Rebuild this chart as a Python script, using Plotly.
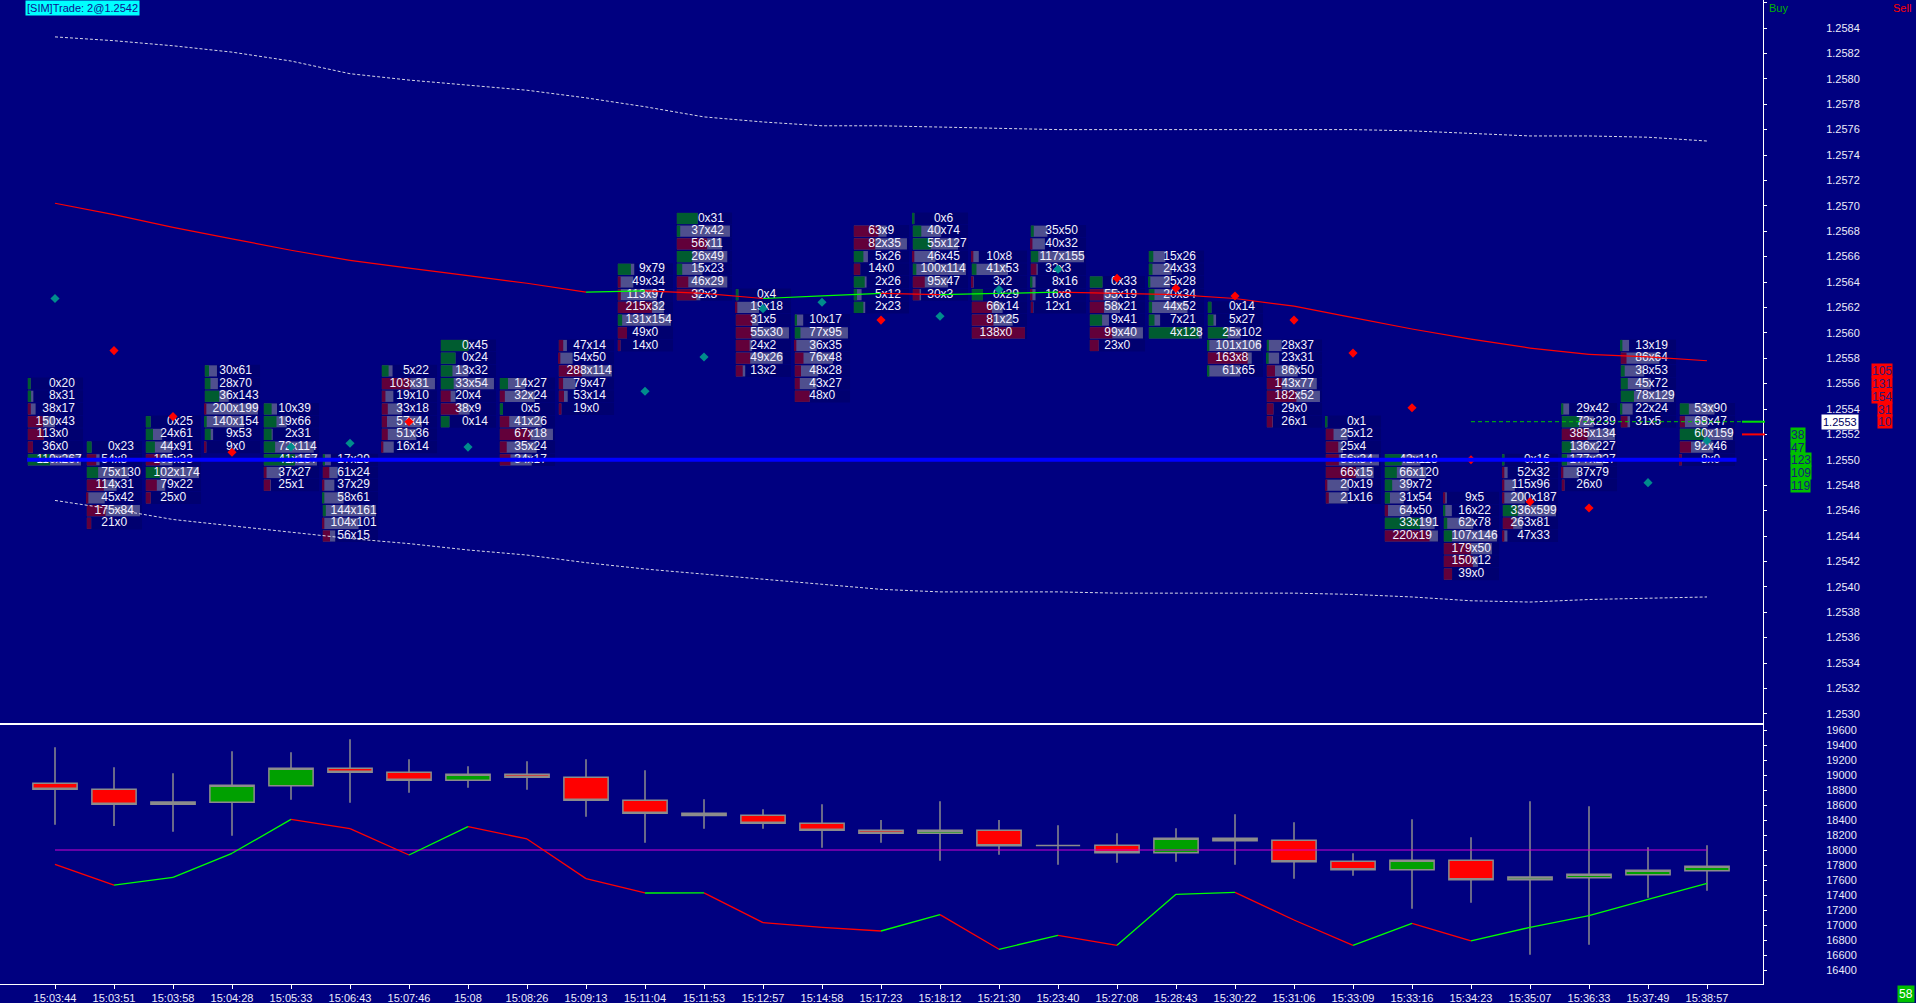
import plotly.graph_objects as go

# ---------------- data ----------------
times = ["15:03:44", "15:03:51", "15:03:58", "15:04:28", "15:05:33", "15:06:43", "15:07:46",
         "15:08", "15:08:26", "15:09:13", "15:11:04", "15:11:53", "15:12:57", "15:14:58",
         "15:17:23", "15:18:12", "15:21:30", "15:23:40", "15:27:08", "15:28:43", "15:30:22",
         "15:31:06", "15:33:09", "15:33:16", "15:34:23", "15:35:07", "15:36:33", "15:37:49",
         "15:38:57"]

# footprint: highest price of each bar, then bid x ask per price level (top -> bottom)
fp_top = [1.2556, 1.2551, 1.2553, 1.2557, 1.2554, 1.2550, 1.2557, 1.2559, 1.2556, 1.2559,
          1.2565, 1.2569, 1.2563, 1.2561, 1.2568, 1.2569, 1.2566, 1.2568, 1.2564, 1.2566,
          1.2562, 1.2559, 1.2553, 1.2550, 1.2547, 1.2550, 1.2554, 1.2559, 1.2554]
fp_bid = [
    [0, 8, 38, 150, 113, 36, 110],
    [0, 54, 75, 114, 45, 175, 21],
    [0, 24, 44, 105, 102, 79, 25],
    [30, 28, 36, 200, 140, 9, 9],
    [10, 19, 2, 72, 41, 37, 25],
    [17, 61, 37, 58, 144, 104, 56],
    [5, 103, 19, 33, 57, 51, 16],
    [0, 0, 13, 33, 20, 38, 0],
    [14, 32, 0, 41, 67, 35, 34],
    [47, 54, 288, 79, 53, 19],
    [9, 49, 113, 215, 131, 49, 14],
    [0, 37, 56, 26, 15, 46, 32],
    [0, 19, 31, 55, 24, 49, 13],
    [10, 77, 36, 76, 48, 43, 48],
    [63, 82, 5, 14, 2, 5, 2],
    [0, 40, 55, 46, 100, 95, 30],
    [10, 41, 3, 0, 66, 81, 138],
    [35, 40, 117, 32, 8, 16, 12],
    [0, 55, 58, 9, 99, 23],
    [15, 24, 25, 20, 44, 7, 4],
    [0, 5, 25, 101, 163, 61],
    [28, 23, 86, 143, 182, 29, 26],
    [0, 25, 25, 56, 66, 20, 21],
    [42, 66, 39, 31, 64, 33, 220],
    [9, 16, 62, 107, 179, 150, 39],
    [0, 52, 115, 200, 336, 263, 47],
    [29, 72, 385, 136, 177, 87, 26],
    [13, 86, 38, 45, 78, 22, 31],
    [53, 68, 60, 92, 8],
]
fp_ask = [
    [20, 31, 17, 43, 0, 0, 267],
    [23, 8, 130, 31, 42, 84, 0],
    [25, 61, 91, 33, 174, 22, 0],
    [61, 70, 143, 199, 154, 53, 0],
    [39, 66, 31, 114, 157, 27, 1],
    [29, 24, 29, 61, 161, 101, 15],
    [22, 31, 10, 18, 44, 36, 14],
    [45, 24, 32, 54, 4, 9, 14],
    [27, 24, 5, 26, 18, 24, 17],
    [14, 50, 114, 47, 14, 0],
    [79, 34, 97, 32, 154, 0, 0],
    [31, 42, 11, 49, 23, 29, 3],
    [4, 18, 5, 30, 2, 26, 2],
    [17, 95, 35, 48, 28, 27, 0],
    [9, 35, 26, 0, 26, 12, 23],
    [6, 74, 127, 45, 114, 47, 3],
    [8, 53, 2, 29, 14, 25, 0],
    [50, 32, 155, 3, 16, 8, 1],
    [33, 19, 21, 41, 40, 0],
    [26, 33, 28, 34, 52, 21, 128],
    [14, 27, 102, 106, 8, 65],
    [37, 31, 50, 77, 52, 0, 1],
    [1, 12, 4, 34, 15, 19, 16],
    [118, 120, 72, 54, 50, 191, 19],
    [5, 22, 78, 146, 50, 12, 0],
    [16, 32, 96, 187, 599, 81, 33],
    [42, 239, 134, 227, 227, 79, 0],
    [19, 64, 53, 72, 129, 24, 5],
    [90, 47, 159, 46, 0],
]

band_upper = [1.25833, 1.25830, 1.25826, 1.25821, 1.25814, 1.25804, 1.25799, 1.25795, 1.25791,
              1.25785, 1.25778, 1.25770, 1.25766, 1.25763, 1.25763, 1.25762, 1.25761, 1.25760,
              1.25760, 1.25760, 1.25760, 1.25760, 1.25760, 1.25759, 1.25757, 1.25755, 1.25755,
              1.25754, 1.25751]
band_lower = [1.25468, 1.25461, 1.25453, 1.25448, 1.25443, 1.25438, 1.25434, 1.25429, 1.25425,
              1.25419, 1.25414, 1.25410, 1.25406, 1.25402, 1.25398, 1.25396, 1.25396, 1.25396,
              1.25395, 1.25395, 1.25395, 1.25395, 1.25394, 1.25392, 1.25389, 1.25388, 1.25390,
              1.25391, 1.25392]
ma_line = [1.25702, 1.25693, 1.25683, 1.25674, 1.25665, 1.25657, 1.25651, 1.25645, 1.25639,
           1.25632, 1.25633, 1.25631, 1.25627, 1.25629, 1.25631, 1.25630, 1.25631, 1.25632,
           1.25631, 1.25630, 1.25627, 1.25621, 1.25612, 1.25603, 1.25595, 1.25588, 1.25583,
           1.25581, 1.25578]

teal_bar = [0, 4, 5, 7, 10, 11, 12, 13, 15, 16, 17, 27, 28]
teal_price = [1.25627, 1.25510, 1.25513, 1.25510, 1.25554, 1.25581, 1.25619, 1.25624,
              1.25613, 1.25634, 1.25650, 1.25482, 1.25515]
red_bar = [1, 2, 3, 6, 14, 18, 19, 20, 21, 22, 23, 24, 25, 26]
red_price = [1.25586, 1.25534, 1.25506, 1.25530, 1.25610, 1.25643, 1.25635, 1.25629,
             1.25610, 1.25584, 1.25541, 1.25500, 1.25467, 1.25462]

blue_level = 1.2550
last_price = 1.2553
last_price_from_bar = 24
best_ask_line = 1.2553
best_bid_line = 1.2552

dom_sell_price = [1.2557, 1.2556, 1.2555, 1.2554, 1.2553]
dom_sell_size = [105, 131, 154, 31, 10]
dom_buy_price = [1.2552, 1.2551, 1.2550, 1.2549, 1.2548]
dom_buy_size = [38, 47, 123, 109, 119]

c_open = [18889, 18809, 18609, 18636, 18858, 19089, 19036, 18929, 19009, 18969, 18662, 18489,
          18462, 18356, 18262, 18222, 18262, 18060, 18062, 17964, 18156, 18129, 17849, 17738,
          17862, 17604, 17631, 17671, 17724]
c_high = [19369, 19103, 19022, 19316, 19302, 19476, 19209, 19116, 19182, 19209, 19062, 18676,
          18542, 18609, 18400, 18649, 18400, 18329, 18222, 18289, 18476, 18369, 17956, 18409,
          18169, 18649, 18582, 18036, 18062]
c_low = [18337, 18320, 18244, 18191, 18671, 18631, 18764, 18831, 18804, 18444, 18098, 18284,
         18284, 18031, 18098, 17858, 17938, 17804, 17831, 17844, 17804, 17618, 17658, 17218,
         17298, 16604, 16738, 17364, 17458]
c_close = [18809, 18609, 18640, 18862, 19089, 19036, 18929, 19009, 18969, 18662, 18489, 18460,
           18356, 18262, 18222, 18262, 18058, 18060, 17964, 18156, 18124, 17844, 17738, 17862,
           17604, 17640, 17676, 17729, 17782]
cum_line = [17809, 17533, 17636, 17956, 18409, 18284, 17933, 18311, 18147, 17618, 17427, 17428,
            17031, 16969, 16920, 17138, 16676, 16862, 16729, 17409, 17436, 17067, 16729, 17022,
            16787, 16969, 17124, 17342, 17556]
ref_level = 18000

trade_label = "[SIM]Trade: 2@1.2542"
counter_label = "58"

# ---------------- geometry / style ----------------
W, H = 1916, 1003
ML, MR, MT, MB = 0, 153, 0, 19
PW, PH = W - ML - MR, H - MT - MB


def px(x):
    return (x - ML) / PW


def py(y):
    return 1 - (y - MT) / PH


BG = "#000080"
CELL_BG = "#000070"
SLATE = "#4F4F8E"
GREEN_BOX = "#005C30"
MAROON_BOX = "#62003A"
TXT = "#F2F2FF"
FONT = "Arial, Liberation Sans, sans-serif"
TICK = 0.0001
n = len(times)
xs = list(range(n))

# ---------------- footprint cells ----------------
cy, cbase, bgw, totw, dw, dcol, bid_t, ask_t, tx = [], [], [], [], [], [], [], [], []
for i, (top, bids, asks) in enumerate(zip(fp_top, fp_bid, fp_ask)):
    totals = [b + a for b, a in zip(bids, asks)]
    cmax = max(totals)
    for k, (b, a) in enumerate(zip(bids, asks)):
        p = round(top - k * TICK, 4)
        t = b + a
        d = a - b
        tw = 0.9 * t / cmax if t else 0
        if t:
            tw = max(tw, 0.025)
        w = 0.9 * abs(d) / cmax if d else 0
        if d:
            w = max(w, 0.025)
        cy.append(p)
        cbase.append(i - 0.46)
        bgw.append(0.95)
        totw.append(tw)
        dw.append(w)
        dcol.append(GREEN_BOX if d > 0 else MAROON_BOX)
        bid_t.append(str(b))
        ask_t.append("x" + str(a))
        tx.append(i + 0.01)

fig = go.Figure()

fig.add_trace(go.Bar(x=bgw, base=[b - 0.015 for b in cbase], y=cy, orientation="h",
                     width=0.000096, marker=dict(color=CELL_BG, line=dict(width=0)),
                     xaxis="x2", yaxis="y2", hoverinfo="skip"))
fig.add_trace(go.Bar(x=totw, base=cbase, y=cy, orientation="h", width=0.000088,
                     marker=dict(color=SLATE, line=dict(width=0)),
                     xaxis="x2", yaxis="y2", hoverinfo="skip"))
fig.add_trace(go.Bar(x=dw, base=cbase, y=cy, orientation="h", width=0.000088,
                     marker=dict(color=dcol, line=dict(width=0)),
                     xaxis="x2", yaxis="y2", hoverinfo="skip"))

fig.add_trace(go.Scatter(x=tx, y=cy, mode="text", text=bid_t, textposition="middle left",
                         textfont=dict(family=FONT, size=12, color=TXT),
                         xaxis="x2", yaxis="y2", hoverinfo="skip"))
fig.add_trace(go.Scatter(x=tx, y=cy, mode="text", text=ask_t, textposition="middle right",
                         textfont=dict(family=FONT, size=12, color=TXT),
                         xaxis="x2", yaxis="y2", hoverinfo="skip"))

# bands
for band in (band_upper, band_lower):
    fig.add_trace(go.Scatter(x=xs, y=band, mode="lines",
                             line=dict(color="#D8D8E8", width=1, dash="3px,2px"),
                             xaxis="x2", yaxis="y2", hoverinfo="skip"))


def split_segments(xv, yv):
    gx, gy, rx, ry = [], [], [], []
    for j in range(len(xv) - 1):
        if yv[j + 1] >= yv[j]:
            gx += [xv[j], xv[j + 1], None]
            gy += [yv[j], yv[j + 1], None]
        else:
            rx += [xv[j], xv[j + 1], None]
            ry += [yv[j], yv[j + 1], None]
    return gx, gy, rx, ry


gx, gy, rx, ry = split_segments(xs, ma_line)
fig.add_trace(go.Scatter(x=rx, y=ry, mode="lines", line=dict(color="#FF0000", width=1.2),
                         xaxis="x2", yaxis="y2", hoverinfo="skip"))
fig.add_trace(go.Scatter(x=gx, y=gy, mode="lines", line=dict(color="#00FF00", width=1.2),
                         xaxis="x2", yaxis="y2", hoverinfo="skip"))

# markers
fig.add_trace(go.Scatter(x=teal_bar, y=teal_price, mode="markers",
                         marker=dict(symbol="diamond", size=7, color="#008C8C"),
                         xaxis="x2", yaxis="y2", hoverinfo="skip"))
fig.add_trace(go.Scatter(x=red_bar, y=red_price, mode="markers",
                         marker=dict(symbol="diamond", size=7, color="#FF0000"),
                         xaxis="x2", yaxis="y2", hoverinfo="skip"))

# blue level line
fig.add_trace(go.Scatter(x=[xs[0] - 0.475, xs[-1] + 0.5], y=[blue_level, blue_level],
                         mode="lines", line=dict(color="#0000FF", width=4),
                         xaxis="x2", yaxis="y2", hoverinfo="skip"))
# last price dashed line
fig.add_trace(go.Scatter(x=[last_price_from_bar, xs[-1] + 0.6], y=[last_price, last_price],
                         mode="lines", line=dict(color="#00C000", width=1, dash="4px,3px"),
                         xaxis="x2", yaxis="y2", hoverinfo="skip"))

# ---------------- lower panel ----------------
fig.add_trace(go.Candlestick(x=xs, open=c_open, high=c_high, low=c_low, close=c_close,
                             increasing=dict(fillcolor="#00A000", line=dict(color="#8C8C8C", width=1.5)),
                             decreasing=dict(fillcolor="#FF0000", line=dict(color="#8C8C8C", width=1.5)),
                             whiskerwidth=0, xaxis="x", yaxis="y", hoverinfo="skip"))
fig.add_trace(go.Scatter(x=[xs[0], xs[-1]], y=[ref_level, ref_level], mode="lines",
                         line=dict(color="#D000D0", width=1.2), xaxis="x", yaxis="y",
                         hoverinfo="skip"))
gx, gy, rx, ry = split_segments(xs, cum_line)
fig.add_trace(go.Scatter(x=rx, y=ry, mode="lines", line=dict(color="#FF0000", width=1.3),
                         xaxis="x", yaxis="y", hoverinfo="skip"))
fig.add_trace(go.Scatter(x=gx, y=gy, mode="lines", line=dict(color="#00FF00", width=1.3),
                         xaxis="x", yaxis="y", hoverinfo="skip"))

# ---------------- layout ----------------
split_px = 723
xr = [-55 / 59.0, -55 / 59.0 + PW / 59.0]
y2_top = 1.2584 + 28 / 127.0 * 0.001
y2_range = [y2_top - 723 / 12.7 * TICK, y2_top]
y_range = [19680 - 260 / 0.075, 19680]

axis_font = dict(family=FONT, size=11, color="#ECECFA")
shapes = [
    dict(type="line", xref="paper", yref="y2", x0=px(1742), x1=px(1765),
         y0=best_ask_line, y1=best_ask_line, line=dict(color="#00E000", width=2)),
    dict(type="line", xref="paper", yref="y2", x0=px(1742), x1=px(1765),
         y0=best_bid_line, y1=best_bid_line, line=dict(color="#FF0000", width=2)),
]

ann = []
for p, s in zip(dom_sell_price, dom_sell_size):
    ann.append(dict(x=px(1893), y=p, xref="paper", yref="y2", xanchor="right", yanchor="middle",
                    text=str(s), showarrow=False, bgcolor="#FF0000", borderpad=0, height=13,
                    font=dict(family=FONT, size=12, color="#30187A")))
for p, s in zip(dom_buy_price, dom_buy_size):
    ann.append(dict(x=px(1790), y=p, xref="paper", yref="y2", xanchor="left", yanchor="middle",
                    text=str(s), showarrow=False, bgcolor="#00C000", borderpad=0, height=13,
                    font=dict(family=FONT, size=12, color="#1A1A7A")))
ann.append(dict(x=px(1821), y=last_price, xref="paper", yref="y2", xanchor="left",
                yanchor="middle", text=f"{last_price:.4f}", showarrow=False, bgcolor="#FFFFFF",
                borderpad=1, font=dict(family=FONT, size=11, color="#000060")))
ann.append(dict(x=px(25), y=py(0), xref="paper", yref="paper", xanchor="left", yanchor="top",
                text=trade_label, showarrow=False, bgcolor="#00FFFF", borderpad=1,
                font=dict(family=FONT, size=11, color="#101090")))
ann.append(dict(x=px(1767), y=py(0), xref="paper", yref="paper", xanchor="left", yanchor="top",
                text="Buy", showarrow=False, font=dict(family=FONT, size=11, color="#00B400")))
ann.append(dict(x=px(1913), y=py(0), xref="paper", yref="paper", xanchor="right", yanchor="top",
                text="Sell", showarrow=False, font=dict(family=FONT, size=11, color="#FF0000")))
ann.append(dict(x=px(1915), y=py(1003), xref="paper", yref="paper", xanchor="right",
                yanchor="bottom", text=counter_label, showarrow=False, bgcolor="#00C000",
                borderpad=1, font=dict(family=FONT, size=12, color="#FFFFFF")))

fig.update_layout(
    width=W, height=H, margin=dict(l=ML, r=MR, t=MT, b=MB),
    paper_bgcolor=BG, plot_bgcolor=BG, showlegend=False, hovermode=False,
    barmode="overlay", boxgap=0.25, boxgroupgap=0,
    font=dict(family=FONT, color="#ECECFA"),
    xaxis=dict(domain=[0, 1], anchor="y", range=xr, tickvals=xs, ticktext=times,
               tickfont=axis_font, ticks="outside", ticklen=4, tickcolor="#FFFFFF",
               showline=True, linecolor="#FFFFFF", linewidth=1, showgrid=False,
               zeroline=False, rangeslider=dict(visible=False), fixedrange=True),
    xaxis2=dict(domain=[0, 1], anchor="y2", matches="x", showticklabels=False, ticks="",
                showline=True, linecolor="#FFFFFF", linewidth=2, showgrid=False,
                zeroline=False),
    yaxis=dict(domain=[0, py(split_px + 1)], anchor="x", side="right", range=y_range,
               tick0=16400, dtick=200, tickformat="d", tickfont=axis_font,
               ticks="outside", ticklen=3, tickcolor="#FFFFFF", showline=True,
               linecolor="#FFFFFF", linewidth=1, mirror=True, showgrid=False,
               zeroline=False, ticklabelstandoff=57),
    yaxis2=dict(domain=[py(split_px), 1], anchor="x2", side="right", range=y2_range,
                tick0=1.2530, dtick=0.0002, tickformat=".4f", tickfont=axis_font,
                ticks="outside", ticklen=3, tickcolor="#FFFFFF", showline=True,
                linecolor="#FFFFFF", linewidth=1, mirror=True, showgrid=False,
                zeroline=False, ticklabelstandoff=57),
    shapes=shapes, annotations=ann,
)

fig.write_html("out.html", config={"displayModeBar": False},
               post_script="document.body.style.margin='0';"
                           "document.body.style.padding='0';"
                           "document.body.style.overflow='hidden';"
                           "document.body.style.background='#000080';")
